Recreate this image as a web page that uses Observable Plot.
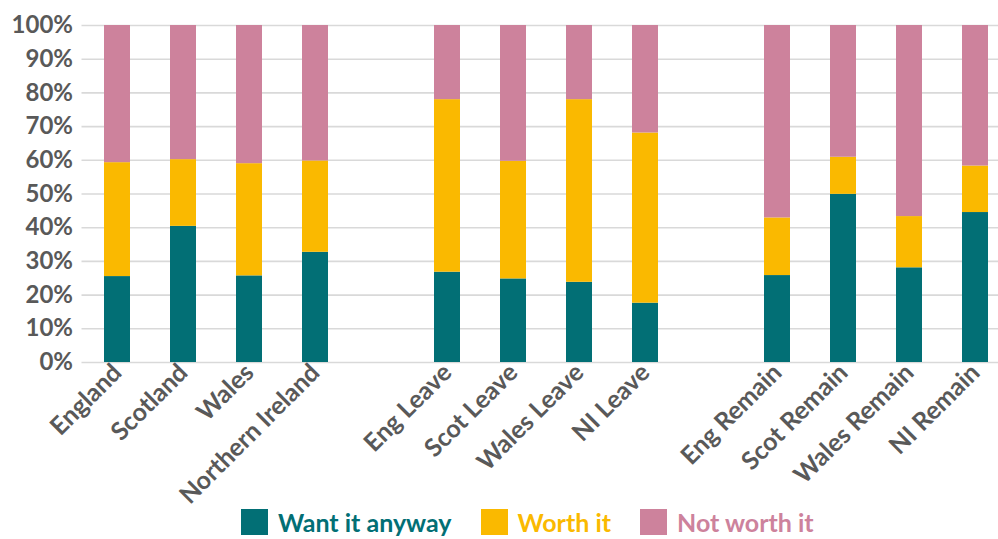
<!DOCTYPE html>
<html>
<head>
<meta charset="utf-8">
<script src="https://cdn.jsdelivr.net/npm/d3@7"></script>
<script src="https://cdn.jsdelivr.net/npm/@observablehq/plot@0.6"></script>
<style>
  html, body { margin: 0; padding: 0; background: #fff; overflow: hidden; }
  #chart { width: 998px; height: 539px; position: relative; }
  #legend { position: absolute; left: 241px; top: 509px; display: flex; align-items: center;
            font-family: Lato, sans-serif; font-weight: bold; font-size: 25px; line-height: 26px; }
  .item { display: flex; align-items: center; margin-right: 29px; }
  .sw { width: 27px; height: 26px; margin-right: 10px; }
</style>
</head>
<body>
<div id="chart"></div>
<script>
// x slots (blank entries are the visual gaps between groups)
const categories = ["England", "Scotland", "Wales", "Northern Ireland", " ",
  "Eng Leave", "Scot Leave", "Wales Leave", "NI Leave", "  ",
  "Eng Remain", "Scot Remain", "Wales Remain", "NI Remain"];
const barCategories = ["England", "Scotland", "Wales", "Northern Ireland",
  "Eng Leave", "Scot Leave", "Wales Leave", "NI Leave",
  "Eng Remain", "Scot Remain", "Wales Remain", "NI Remain"];
const seriesNames = ["Want it anyway", "Worth it", "Not worth it"];
const seriesColors = ["#026f75", "#fab900", "#cd829c"];
const wantItAnyway = [25.5, 40.4, 25.7, 32.7, 26.8, 24.8, 23.8, 17.6, 25.8, 49.9, 28.1, 44.5];
const worthIt      = [33.8, 19.8, 33.3, 27.1, 51.2, 34.9, 54.2, 50.5, 17.1, 11.0, 15.2, 13.8];
const notWorthIt   = [40.7, 39.8, 41.0, 40.2, 22.0, 40.3, 22.0, 31.9, 57.1, 39.1, 56.7, 41.7];
const yTicks = [0, 10, 20, 30, 40, 50, 60, 70, 80, 90, 100];

const seriesValues = [wantItAnyway, worthIt, notWorthIt];
const data = [];
seriesNames.forEach((s, si) => {
  barCategories.forEach((c, i) => data.push({cat: c, series: s, value: seriesValues[si][i]}));
});

const chart = Plot.plot({
  width: 998,
  height: 508,
  marginTop: 25,
  marginBottom: 146,
  marginLeft: 81.5,
  marginRight: 0,
  style: {fontFamily: "Lato, sans-serif", fontSize: "24px", fontWeight: "bold", color: "#595959", overflow: "hidden"},
  x: {domain: categories, range: [81.5, 1011], paddingInner: 0.6, paddingOuter: 0.3},
  y: {domain: [0, 100]},
  color: {domain: seriesNames, range: seriesColors},
  marks: [
    Plot.ruleY(yTicks, {stroke: "#d9d9d9", strokeWidth: 1.6}),
    Plot.barY(data, {x: "cat", y: "value", fill: "series", order: seriesNames}),
    Plot.axisY({ticks: yTicks, tickFormat: d => d + "%", tickSize: 0, tickPadding: 9, label: null, fill: "#595959", fontSize: 24}),
    Plot.axisX({tickRotate: -45, tickSize: 0, tickPadding: 6, label: null, tickFormat: d => d.trim(), fill: "#595959", fontSize: 25})
  ]
});
document.getElementById("chart").appendChild(chart);

const legend = document.createElement("div");
legend.id = "legend";
seriesNames.forEach((s, i) => {
  const item = document.createElement("div");
  item.className = "item";
  const sw = document.createElement("div");
  sw.className = "sw";
  sw.style.background = seriesColors[i];
  const t = document.createElement("span");
  t.textContent = s;
  t.style.color = seriesColors[i];
  item.appendChild(sw);
  item.appendChild(t);
  legend.appendChild(item);
});
document.getElementById("chart").appendChild(legend);
</script>
</body>
</html>
